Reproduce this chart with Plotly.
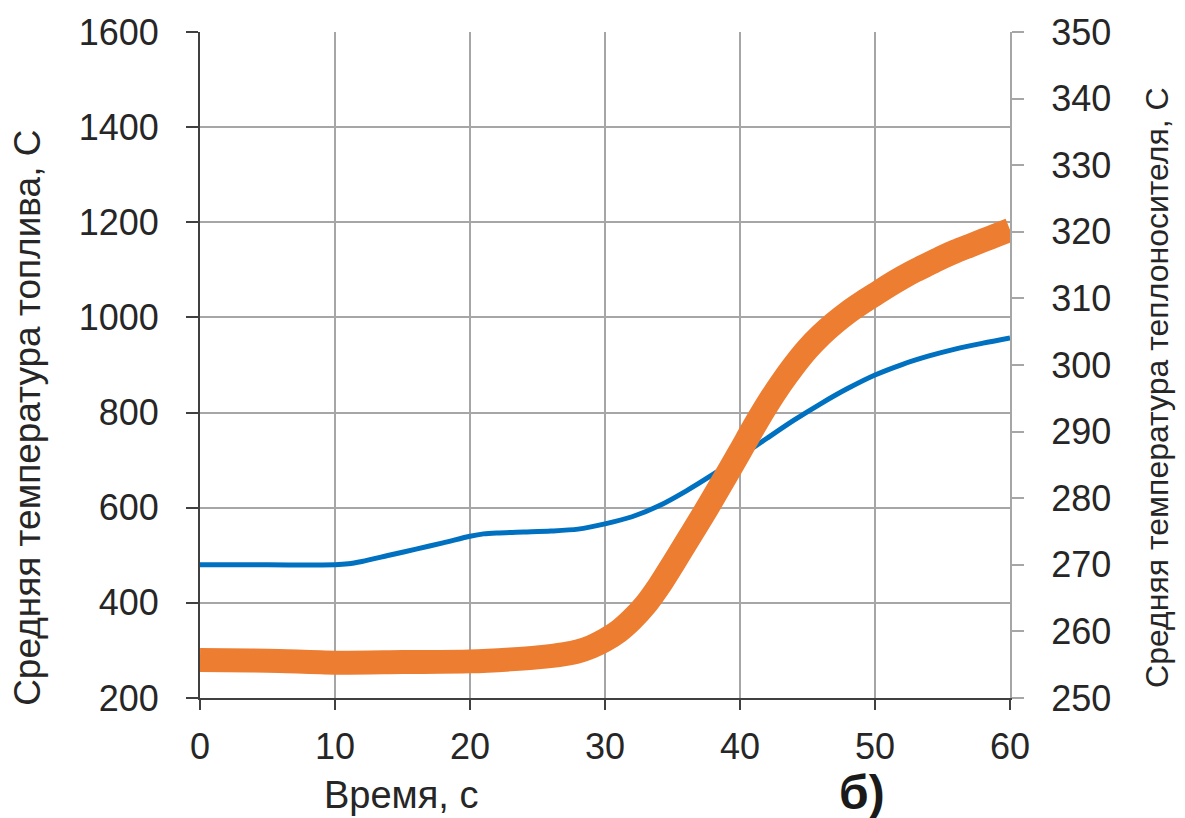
import plotly.graph_objects as go

# Fuel temperature (left axis)
t_fuel = [0, 5, 10, 11, 12, 14, 16, 18, 20, 21, 22, 24, 26, 28, 30, 32, 34, 36, 38,
          40, 42, 44, 46, 48, 50, 52, 54, 56, 58, 60]
fuel_temp = [480, 480, 480, 482, 487, 500, 513, 526, 540, 545, 547, 549, 551, 555,
             566, 581, 604, 635, 670, 707, 746, 784, 819, 851, 879, 901, 919, 934,
             946, 957]

# Coolant temperature (right axis)
t_cool = [0, 5, 10, 15, 20, 23, 25, 27, 28, 29, 30, 31, 32, 33, 34, 35, 36, 37, 38,
          39, 40, 41, 42, 43, 44, 45, 46, 47, 48, 49, 50, 51, 52, 53, 54, 55, 56, 57,
          58, 59, 60]
cool_temp = [255.7, 255.6, 255.3, 255.4, 255.5, 255.8, 256.1, 256.6, 257.0, 257.7,
             258.7, 260.0, 261.8, 264.0, 266.8, 270.0, 273.3, 276.6, 280.0, 283.5,
             287.0, 290.6, 294.0, 297.1, 299.9, 302.4, 304.5, 306.3, 307.9, 309.3,
             310.6, 311.9, 313.1, 314.2, 315.2, 316.2, 317.1, 317.9, 318.7, 319.5,
             320.3]

x_ticks = [0, 10, 20, 30, 40, 50, 60]
left_ticks = [200, 400, 600, 800, 1000, 1200, 1400, 1600]
right_ticks = [250, 260, 270, 280, 290, 300, 310, 320, 330, 340, 350]

FONT = "Liberation Sans, Arial, sans-serif"
TXT = "#262626"
GRID = "#A6A6A6"
DARK = "#404040"

fig = go.Figure()
fig.add_trace(go.Scatter(x=t_cool, y=cool_temp, yaxis="y2", mode="lines",
                         line=dict(color="#ED7D31", width=24, shape="spline", smoothing=0.8),
                         showlegend=False))
fig.add_trace(go.Scatter(x=t_fuel, y=fuel_temp, yaxis="y", mode="lines",
                         line=dict(color="#0070C0", width=5, shape="spline", smoothing=0.8),
                         showlegend=False))

fig.update_layout(
    width=1185, height=818,
    margin=dict(l=200, r=175, t=30, b=120),
    paper_bgcolor="white", plot_bgcolor="white",
    font=dict(family=FONT, color=TXT),
    xaxis=dict(range=[0, 60], tickvals=x_ticks, ticks="outside", ticklen=10,
               tickcolor=DARK, tickwidth=2, showline=True, linecolor=DARK, linewidth=2,
               showgrid=True, gridcolor=GRID, gridwidth=2, zeroline=False,
               tickfont=dict(size=36, family=FONT, color=TXT), ticklabelstandoff=6),
    yaxis=dict(range=[200, 1600], tickvals=left_ticks, ticks="outside", ticklen=12,
               tickcolor=DARK, tickwidth=2, showline=True, linecolor=DARK, linewidth=2,
               showgrid=True, gridcolor=GRID, gridwidth=2, zeroline=False,
               tickfont=dict(size=36, family=FONT, color=TXT), ticklabelstandoff=20),
    yaxis2=dict(range=[250, 350], tickvals=right_ticks, overlaying="y", side="right",
                ticks="outside", ticklen=12, tickcolor=GRID, tickwidth=2,
                showline=True, linecolor=GRID, linewidth=2, showgrid=False,
                zeroline=False, tickfont=dict(size=36, family=FONT, color=TXT),
                ticklabelstandoff=20),
    annotations=[
        dict(text="Средняя температура топлива, С", xref="paper", yref="paper",
             x=-0.2123, y=0.4207, xanchor="center", yanchor="middle", textangle=-90,
             showarrow=False, font=dict(size=37, family=FONT, color=TXT)),
        dict(text="Средняя температура теплоносителя, С", xref="paper", yref="paper",
             x=1.1815, y=0.4656, xanchor="center", yanchor="middle", textangle=-90,
             showarrow=False, font=dict(size=32, family=FONT, color=TXT)),
        dict(text="Время, с", xref="paper", yref="paper",
             x=0.248, y=-0.145, xanchor="center", yanchor="middle",
             showarrow=False, font=dict(size=38, family=FONT, color=TXT)),
        dict(text="<b>б)</b>", xref="paper", yref="paper",
             x=0.817, y=-0.142, xanchor="center", yanchor="middle",
             showarrow=False, font=dict(size=48, family=FONT, color="#1a1a1a")),
    ],
)

fig.write_html("out.html")
